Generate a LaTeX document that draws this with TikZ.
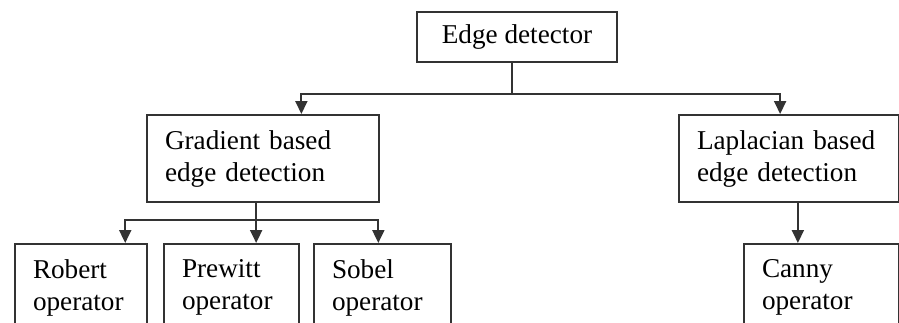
\documentclass[tikz,border=0pt]{standalone}
\usepackage{fontspec}
\setmainfont{Liberation Serif}
\usetikzlibrary{calc,arrows.meta}

\begin{document}
\begin{tikzpicture}[x=0.5pt,y=0.5pt,>={Triangle[length=6.5pt,width=6pt]},
    box/.style={draw=black!80,line width=1pt,anchor=north west,inner sep=0pt,
      font=\fontsize{13.6}{16}\selectfont},
    lbox/.style={box,inner xsep=9pt,text width=#1,align=left,minimum height=43.5pt},
    conn/.style={draw=black!80,line width=1pt}]

    \useasboundingbox (0,0) rectangle (899,-322);

    % top box
    \node[box,minimum width=100pt,minimum height=25pt] (edge) at (416,-11) {Edge detector};

    % two kinds of detection
    \node[lbox=98pt] (grad) at (146,-114) {Gradient based\\edge detection};
    \node[lbox=92pt] (lap) at (678,-114) {Laplacian based\\edge detection};

    % operators
    \node[lbox=48pt] (robert) at (14,-243) {Robert\\operator};
    \node[lbox=49.5pt] (prewitt) at (163,-243) {Prewitt\\operator};
    \node[lbox=50.5pt] (sobel) at (313,-243) {Sobel\\operator};
    \node[lbox=59.5pt] (canny) at (743,-243) {Canny\\operator};

    % edge detector -> methods
    \coordinate (eout) at ($(edge.south west)!0.475!(edge.south east)$);
    \coordinate (ebus) at ($(eout)+(0,-31)$);
    \draw[conn] (eout) -- (ebus);
    \draw[conn,->] (ebus) -| ($(grad.north west)!0.664!(grad.north east)$);
    \draw[conn,->] (ebus) -| ($(lap.north west)!0.46!(lap.north east)$);

    % gradient -> operators
    \coordinate (gout) at ($(grad.south west)!0.47!(grad.south east)$);
    \coordinate (gbus) at ($(gout)+(0,-17)$);
    \draw[conn] (gout) -- (gbus);
    \draw[conn,->] (gbus) -| ($(robert.north west)!0.83!(robert.north east)$);
    \draw[conn,->] (gbus) -| ($(prewitt.north west)!0.68!(prewitt.north east)$);
    \draw[conn,->] (gbus) -| ($(sobel.north west)!0.47!(sobel.north east)$);

    % laplacian -> canny
    \coordinate (lout) at ($(lap.south west)!0.54!(lap.south east)$);
    \draw[conn,->] (lout) -- (lout |- canny.north);

\end{tikzpicture}
\end{document}
